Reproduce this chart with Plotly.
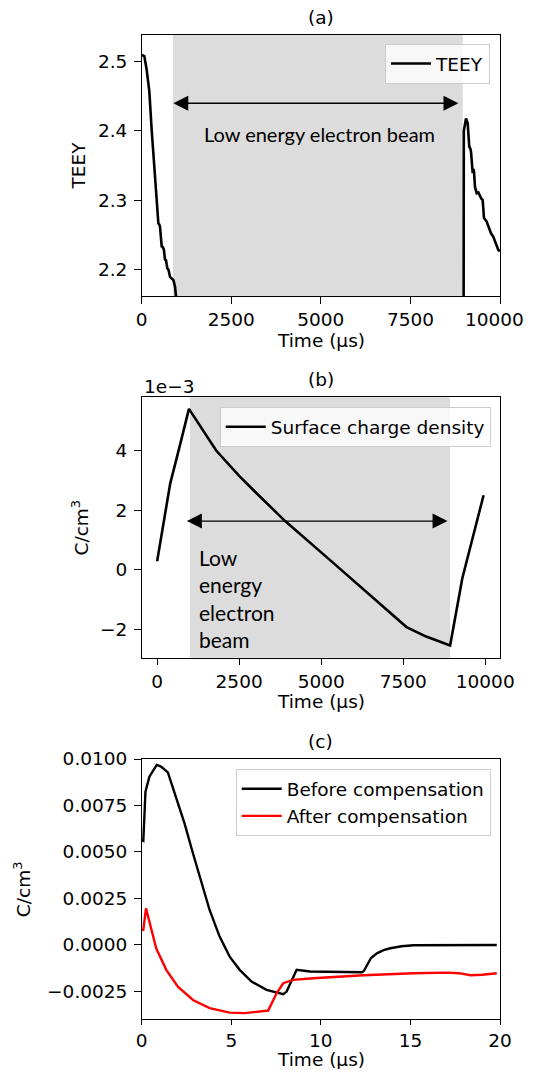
import plotly.graph_objects as go

# ---------------- data ----------------
# (a) TEEY vs time (us); values in the beam window fall below the visible range
teey_time = [0, 73, 140, 213, 279, 371, 465, 490, 511, 558, 590, 620, 650, 678, 715, 750, 790, 883, 930, 957, 1010,
             8980, 8990, 9051, 9098, 9143, 9170, 9191, 9238, 9260, 9275, 9302, 9350, 9396, 9442, 9480, 9517, 9553,
             9628, 9702, 9749, 9814, 9888, 9953, 10000]
teey_value = [2.5097, 2.508, 2.488, 2.457, 2.401, 2.329, 2.2665, 2.265, 2.2616, 2.233, 2.232, 2.228, 2.214, 2.213,
              2.2015, 2.199, 2.189, 2.1845, 2.175, 2.161, 1.9,
              1.9, 2.40, 2.418, 2.411, 2.377, 2.375, 2.370, 2.339, 2.345, 2.341, 2.319, 2.310, 2.311, 2.305, 2.302,
              2.300, 2.274, 2.269, 2.257, 2.252, 2.247, 2.2376, 2.228, 2.226]

# (b) surface charge density (C/cm^3) vs time (us)
scd_time = [0, 200, 400, 700, 970, 1800, 2500, 3000, 3900, 5280, 6000, 7000, 7600, 8200, 8930, 9300, 9950]
scd_value = [0.28e-3, 1.6e-3, 2.9e-3, 4.2e-3, 5.4e-3, 4.0e-3, 3.15e-3, 2.6e-3, 1.63e-3, 0.31e-3, -0.38e-3,
             -1.35e-3, -1.93e-3, -2.25e-3, -2.55e-3, -0.3e-3, 2.5e-3]

# (c) charge density before / after compensation vs time (us)
before_time = [0, 0.09, 0.21, 0.43, 0.84, 1.08, 1.46, 1.92, 2.39, 2.86, 3.33, 3.79, 4.35, 4.91, 5.47, 6.13, 6.97,
               7.62, 7.9, 8.09, 8.65, 9.39, 12.29, 12.4, 12.57, 12.8, 13.13, 13.5, 13.88, 14.5, 15.18, 17.05, 19.82]
before_value = [0.00565, 0.0056, 0.00824, 0.00905, 0.00968, 0.00959, 0.00928, 0.00797, 0.00654, 0.00493, 0.00332,
                0.00188, 0.00045, -0.00063, -0.00134, -0.00197, -0.00242, -0.0026, -0.00265, -0.00251, -0.00134,
                -0.00143, -0.00147, -0.0014, -0.00108, -0.0007, -0.00045, -0.00028, -0.00018, -0.00007, -0.00002,
                0.0, 0.0]
after_time = [0, 0.09, 0.24, 0.43, 0.81, 1.37, 2.02, 2.86, 3.79, 4.91, 5.75, 7.06, 7.53, 7.9, 8.46, 9.58, 12.38,
              15.18, 17.05, 17.7, 18.36, 19.0, 19.82]
after_value = [0.00081, 0.0008, 0.00197, 0.00125, -0.00018, -0.00134, -0.00224, -0.00296, -0.0034, -0.00364,
               -0.00367, -0.00353, -0.0026, -0.00206, -0.00188, -0.00179, -0.00163, -0.00152, -0.00149, -0.00152,
               -0.00163, -0.0016, -0.00152]

# beam windows (us)
beam_a = [870, 8960]
beam_b = [1000, 8930]

# ticks
x_ticks_ab = [0, 2500, 5000, 7500, 10000]
x_ticks_a_text = ["0", "2500", "5000", "7500", ""]   # last label drawn separately so it stays on the page
x_ticks_b_text = ["0", "2500", "5000", "7500", "10000"]
y_ticks_a = [2.2, 2.3, 2.4, 2.5]
y_ticks_b = [-2e-3, 0, 2e-3, 4e-3]
y_ticks_b_text = ["\u22122", "0", "2", "4"]
x_ticks_c = [0, 5, 10, 15, 20]
y_ticks_c = [-0.0025, 0.0, 0.0025, 0.005, 0.0075, 0.01]
y_ticks_c_text = ["\u22120.0025", "0.0000", "0.0025", "0.0050", "0.0075", "0.0100"]

# ---------------- layout helpers ----------------
OFF = 8  # page body margin
W, H = 533 - 2 * OFF, 1077 - 2 * OFF
FONT = "DejaVu Sans"
FS = 18.5
ANN_FONT = "Lato"


def px(x):
    return (x - OFF) / W


def py(y):
    return 1 - (y - OFF) / H


LEFT, RIGHT = 141.7, 500
boxes = {"a": (35, 296), "b": (397.3, 657.7), "c": (759, 1019.3)}

fig = go.Figure()

fig.add_trace(go.Scatter(x=teey_time, y=teey_value, mode="lines", name="TEEY",
                         line=dict(color="black", width=2.6), xaxis="x", yaxis="y", legend="legend"))
fig.add_trace(go.Scatter(x=scd_time, y=scd_value, mode="lines", name="Surface charge density",
                         line=dict(color="black", width=2.6), xaxis="x2", yaxis="y2", legend="legend2"))
fig.add_trace(go.Scatter(x=before_time, y=before_value, mode="lines", name="Before compensation",
                         line=dict(color="black", width=2.4), xaxis="x3", yaxis="y3", legend="legend3"))
fig.add_trace(go.Scatter(x=after_time, y=after_value, mode="lines", name="After compensation",
                         line=dict(color="red", width=2.4), xaxis="x3", yaxis="y3", legend="legend3"))

axis_common = dict(showline=True, mirror=True, linecolor="black", linewidth=1.3, ticks="outside",
                   tickwidth=1.3, tickcolor="black", showgrid=False, zeroline=False,
                   automargin=False, ticklabeloverflow="allow",
                   tickfont=dict(family=FONT, size=FS, color="black"))

fig.update_layout(
    width=W, height=H, margin=dict(l=0, r=0, t=0, b=0, autoexpand=False),
    paper_bgcolor="white", plot_bgcolor="white",
    xaxis=dict(domain=[px(LEFT), px(RIGHT)], range=[0, 10000], tickvals=x_ticks_ab, ticktext=x_ticks_a_text,
               anchor="y", ticklen=6.5, **axis_common),
    yaxis=dict(domain=[py(boxes["a"][1]), py(boxes["a"][0])], range=[2.1614, 2.5386], tickvals=y_ticks_a,
               tickformat=".1f", anchor="x", ticklabelstandoff=3, ticklen=6.5, **axis_common),
    xaxis2=dict(domain=[px(LEFT), px(RIGHT)], range=[-470, 10450], tickvals=x_ticks_ab, ticktext=x_ticks_b_text,
                anchor="y2", ticklen=6.5, **axis_common),
    yaxis2=dict(domain=[py(boxes["b"][1]), py(boxes["b"][0])], range=[-2.96e-3, 5.79e-3], tickvals=y_ticks_b,
                ticktext=y_ticks_b_text, anchor="x2", ticklabelstandoff=3, ticklen=6.5, **axis_common),
    xaxis3=dict(domain=[px(LEFT), px(RIGHT)], range=[0, 20], tickvals=x_ticks_c, anchor="y3", ticklen=4.5,
                **axis_common),
    yaxis3=dict(domain=[py(boxes["c"][1]), py(boxes["c"][0])], range=[-0.0040, 0.0100], tickvals=y_ticks_c,
                ticktext=y_ticks_c_text, anchor="x3", ticklabelstandoff=3, ticklen=6.5, **axis_common),
    showlegend=True,
)

legend_common = dict(bgcolor="rgba(255,255,255,0.8)", bordercolor="#cccccc", borderwidth=1,
                     font=dict(family=FONT, size=FS, color="black"), xanchor="right", yanchor="top",
                     itemwidth=40)
fig.update_layout(
    legend=dict(x=px(490), y=py(44), **legend_common),
    legend2=dict(x=px(490.7), y=py(407.3), **legend_common),
    legend3=dict(x=px(490.7), y=py(769.3), **legend_common),
)

# shaded beam windows
fig.add_shape(type="rect", xref="x", yref="y domain", x0=beam_a[0], x1=beam_a[1], y0=0, y1=1,
              fillcolor="#dcdcdc", line=dict(width=0), layer="below")
fig.add_shape(type="rect", xref="x2", yref="y2 domain", x0=beam_b[0], x1=beam_b[1], y0=0, y1=1,
              fillcolor="#dcdcdc", line=dict(width=0), layer="below")

annotations = []
# double arrows
annotations.append(dict(x=8840, y=2.44, ax=840, ay=2.44, xref="x", yref="y", axref="x", ayref="y",
                        text="", showarrow=True, arrowhead=2, arrowside="end+start", arrowwidth=1.3,
                        arrowsize=2.3, arrowcolor="black", standoff=0, startstandoff=0))
annotations.append(dict(x=8850, y=1.63e-3, ax=862, ay=1.63e-3, xref="x2", yref="y2", axref="x2", ayref="y2",
                        text="", showarrow=True, arrowhead=2, arrowside="end+start", arrowwidth=1.3,
                        arrowsize=2.3, arrowcolor="black", standoff=0, startstandoff=0))
# beam labels
annotations.append(dict(x=4962, y=2.3955, xref="x", yref="y", text="Low energy electron beam", showarrow=False,
                        font=dict(family=ANN_FONT, size=20, color="black"), xanchor="center", yanchor="middle"))
annotations.append(dict(x=1224, y=-0.955e-3, xref="x2", yref="y2", text="Low<br>energy<br>electron<br>beam",
                        showarrow=False, align="left", font=dict(family=ANN_FONT, size=21, color="black"),
                        xanchor="left", yanchor="middle"))
# last x tick label of (a), kept inside the page edge
annotations.append(dict(x=1.0, y=py(319), xref="paper", yref="paper", text="10000", showarrow=False,
                        font=dict(family=FONT, size=FS, color="black"), xanchor="right", yanchor="middle",
                        borderpad=0))
# titles
cx = px((LEFT + RIGHT) / 2)
for label, ytop in (("(a)", boxes["a"][0]), ("(b)", boxes["b"][0]), ("(c)", boxes["c"][0])):
    annotations.append(dict(x=cx, y=py(ytop - 17.5), xref="paper", yref="paper", text=label, showarrow=False,
                            font=dict(family=FONT, size=FS, color="black"), xanchor="center", yanchor="middle"))
# x axis titles (the last one is nudged up a little so it stays inside the page)
for key, dy in (("a", 44), ("b", 44), ("c", 40.2)):
    annotations.append(dict(x=cx, y=py(boxes[key][1] + dy), xref="paper", yref="paper", text="Time (\u03bcs)",
                            showarrow=False, font=dict(family=FONT, size=FS, color="black"),
                            xanchor="center", yanchor="middle", borderpad=0))
# y axis titles
annotations.append(dict(x=px(78), y=py(sum(boxes["a"]) / 2), xref="paper", yref="paper", text="TEEY",
                        showarrow=False, textangle=-90, font=dict(family=FONT, size=FS, color="black"),
                        xanchor="center", yanchor="middle"))
annotations.append(dict(x=px(80), y=py(sum(boxes["b"]) / 2), xref="paper", yref="paper", text="C/cm<sup>3</sup>",
                        showarrow=False, textangle=-90, font=dict(family=FONT, size=FS, color="black"),
                        xanchor="center", yanchor="middle"))
annotations.append(dict(x=px(22), y=py(sum(boxes["c"]) / 2), xref="paper", yref="paper", text="C/cm<sup>3</sup>",
                        showarrow=False, textangle=-90, font=dict(family=FONT, size=FS, color="black"),
                        xanchor="center", yanchor="middle"))
# offset text for (b)
annotations.append(dict(x=px(142), y=py(386.7), xref="paper", yref="paper", text="1e\u22123", showarrow=False,
                        font=dict(family=FONT, size=FS, color="black"), xanchor="left", yanchor="middle"))

fig.update_layout(annotations=annotations)

fig.write_html("out.html")
